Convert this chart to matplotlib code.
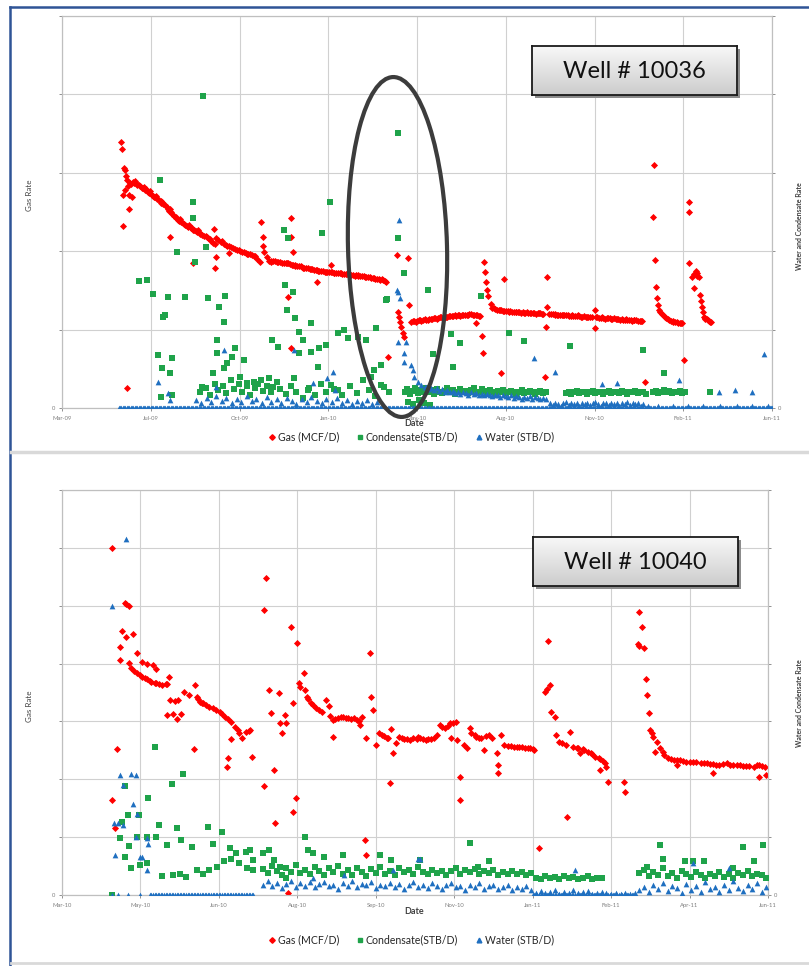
import numpy as np
import matplotlib
matplotlib.use("Agg")
import matplotlib.pyplot as plt
import matplotlib.dates as mdates
from matplotlib.patches import Ellipse
from matplotlib.lines import Line2D
from matplotlib.transforms import IdentityTransform

plt.rcParams['font.family'] = ['Lato', 'DejaVu Sans']

# ------------------------------------------------------------------ data
# Well # 10036 (top) : x = days after axis start, gas in MCF/D, liquids in STB/D
top_start = np.datetime64('2009-03-28')
top_tick_step = 100
top_n_ticks = 9
top_well = "Well # 10036"

gas_top = [
    (67,3398),(68,3301),(70,3062),(71,3037),(73,2909),(69,2718),(76,2718),(79,2692),(76,2539),(69,2322),
    (73,255),(71,2782),(72,2960),(74,2830),
    (77,2871),(78,2860),(80,2884),(81,2870),(82,2895),(84,2858),(85,2850),(87,2845),(88,2830),(90,2807),
    (91,2800),(92,2820),(94,2782),(95,2790),(97,2756),(98,2740),(99,2770),(101,2718),(102,2700),(104,2692),
    (105,2685),(106,2705),(107,2667),(109,2650),(111,2641),(112,2620),(113,2630),(114,2603),(116,2585),
    (118,2565),(119,2540),(121,2514),(122,2540),(123,2495),(124,2475),(126,2455),(128,2437),(129,2420),
    (131,2399),(132,2390),(133,2410),(134,2373),(136,2360),(138,2348),(139,2335),(141,2322),(142,2310),
    (143,2335),(145,2297),(146,2290),(148,2271),(149,2265),(151,2258),(152,2245),(153,2270),(155,2233),
    (156,2220),(158,2207),(160,2200),(162,2195),(163,2180),(165,2169),(167,2150),(168,2131),(170,2110),
    (172,2093),(174,2169),(176,2144),(179,2120),(180,2131),(183,2093),(185,2080),(186,2067),(188,2060),
    (190,2054),(193,2041),(195,2030),(197,2016),(199,2010),(200,2003),(203,1990),(205,1985),(207,1978),
    (209,1970),(210,1965),(212,1958),(214,1952),(216,1945),(217,1939),(220,1901),(223,1863),(226,2067),
    (228,1990),(231,1927),(233,1876),(235,1870),(236,1863),(238,1880),(240,1876),(242,1858),(243,1863),
    (246,1863),(248,1855),(250,1850),(252,1845),(253,1850),(255,1845),(257,1837),(259,1830),(260,1825),
    (262,1818),(263,1812),(265,1805),(267,1812),(269,1805),(270,1799),(272,1790),(273,1786),(275,1792),
    (277,1786),(279,1778),(280,1774),(282,1768),(284,1761),(286,1755),(287,1761),(289,1752),(290,1748),
    (292,1742),(294,1748),(296,1740),(297,1735),(299,1730),(301,1735),(303,1738),(304,1735),(306,1725),
    (307,1722),(309,1718),(311,1722),(313,1726),(314,1722),(316,1715),(318,1710),(320,1705),(321,1710),
    (323,1712),(324,1697),(326,1700),(328,1697),(330,1690),(331,1697),(333,1692),(334,1684),(336,1680),
    (338,1684),(340,1688),(341,1671),(343,1675),(345,1671),(347,1665),(348,1659),(350,1662),(351,1659),
    (353,1650),(355,1646),(357,1640),(358,1633),(360,1645),(362,1633),(364,1625),(365,1608),
    (122,2182),(148,1850),(171,2284),(172,1786),(173,1927),(188,1978),(224,2373),(226,2182),(258,2424),
    (258,2182),(260,1990),(255,1416),(258,766),(287,1608),(303,1825),(367,651),
    (377,1952),(390,1914),(391,1314),(380,1161),(382,1033),(384,957),(385,906),(381,1097),(379,1225),
    (393,1097),(395,1105),(397,1110),(399,1100),(400,1110),(402,1118),(403,1123),(405,1115),(407,1123),
    (409,1130),(410,1123),(412,1128),(414,1136),(416,1130),(417,1136),(419,1142),(420,1148),(422,1140),
    (424,1148),(426,1155),(427,1161),(429,1152),(431,1161),(433,1166),(434,1161),(436,1170),(437,1174),
    (439,1168),(441,1174),(443,1180),(444,1174),(446,1182),(447,1186),(449,1178),(451,1186),(452,1192),
    (454,1186),(456,1180),(458,1186),(459,1194),(461,1199),(463,1190),(464,1186),(466,1180),(468,1186),
    (470,1178),(471,1174),
    (476,1862),(477,1735),(478,1607),(479,1505),(480,1429),(483,1327),(467,1084),(473,918),(474,702),
    (495,446),(498,1646),
    (485,1276),(487,1270),(488,1263),(490,1255),(492,1250),(494,1245),(495,1250),(497,1242),(498,1237),
    (500,1232),(502,1237),(504,1230),(505,1237),(507,1228),(509,1225),(511,1220),(512,1225),(514,1230),
    (515,1225),(517,1218),(519,1225),(520,1215),(522,1212),(524,1220),(525,1212),(527,1208),(529,1212),
    (531,1218),(532,1212),(534,1205),(536,1212),(537,1215),(539,1212),(541,1205),(542,1199),(546,1288),
    (546,1671),(545,1033),(544,395),(549,1199),(551,1205),(553,1199),(555,1192),(556,1199),(558,1190),
    (559,1186),(561,1192),(563,1186),(564,1180),(566,1186),(568,1190),(570,1186),(571,1178),(573,1174),
    (575,1180),(576,1174),(578,1168),(580,1174),(581,1180),(583,1174),(585,1166),(586,1161),(588,1168),
    (590,1161),(591,1155),(593,1161),(595,1166),(597,1161),(600,1250),(600,1020),(602,1155),(603,1161),
    (605,1152),(607,1148),(608,1155),(610,1148),(612,1140),(614,1148),(615,1142),(617,1148),(619,1138),
    (620,1136),(622,1142),(624,1136),(625,1130),(627,1136),(629,1128),(631,1136),(632,1125),(634,1123),
    (636,1130),(637,1123),(639,1118),(641,1123),(642,1115),(644,1123),(645,1118),(647,1123),(649,1112),
    (651,1110),(652,1116),(654,1110),(657,332),
    (667,3100),(666,2436),(668,1888),(669,1543),(670,1403),(671,1314),(673,1250),(674,1225),(676,1199),
    (677,1180),(679,1161),(681,1150),(683,1136),(684,1128),(686,1110),(688,1105),(689,1097),(691,1100),
    (693,1097),(694,1090),(696,1084),(698,1088),(699,1084),(701,612),
    (706,2628),(706,2500),(707,1850),(710,1671),(712,1710),(714,1748),(715,1684),(716,1720),(718,1671),
    (712,1531),(719,1441),(720,1360),(721,1288),(722,1220),(723,1161),(724,1150),(725,1136),(727,1130),
    (728,1123),(729,1110),(730,1097),(731,1092),
]

cond_top = [
    (110,291),(148,263),(148,242),(130,199),(150,186),(162,205),(87,162),(96,163),(102,145),(119,142),
    (116,119),(114,116),(139,142),(165,140),(184,143),(177,129),(182,110),(175,87),(195,77),(175,70),
    (108,68),(124,64),(113,51),(122,45),(111,14),(124,17),(158,27),(170,45),(182,51),(186,57),(192,65),
    (205,61),(201,40),(209,32),(216,33),(224,36),(233,38),(238,27),(237,87),(243,78),(250,227),(255,217),
    (302,263),(293,223),(251,157),(260,148),(254,125),(263,115),(281,108),(267,97),(272,87),(267,70),
    (280,71),(290,77),(298,80),(311,96),(318,99),(322,89),(333,91),(342,87),(354,102),(365,138),(261,38),
    (288,52),(277,23),(303,29),(311,23),(351,48),(359,55),(363,27),(348,40),(379,351),(379,217),(385,172),
    (366,139),(412,151),(438,94),(449,83),(418,69),(440,52),(472,143),(504,96),(521,85),(572,79),(655,74),
    (678,45),(730,20),(159,398),
    (156,20),(162,26),(167,17),(172,31),(176,23),(181,28),(185,19),(190,36),(194,24),(199,31),(203,20),
    (208,28),(212,17),(217,26),(221,31),(226,22),(231,28),(235,20),(242,33),(246,24),(252,18),(258,28),
    (264,20),(271,13),(278,26),(285,17),(292,31),(298,20),(307,24),(316,17),(325,28),(332,19),(339,36),
    (346,23),(353,15),(359,29),(368,20),
    (386,20),(389,24),(392,18),(395,22),(398,25),(401,19),(404,23),(407,21),(410,26),(413,20),(416,23),
    (419,18),(422,24),(425,21),(428,19),(431,22),(434,25),(437,20),(440,23),(443,18),(446,21),(449,24),
    (452,20),(455,22),(458,19),(461,23),(464,25),(467,21),(470,20),(473,24),(476,22),(479,19),(482,23),
    (485,21),(488,18),(491,22),(494,20),(497,23),(500,19),(503,21),(506,22),(509,20),(512,18),(515,21),
    (518,23),(521,19),(524,20),(527,22),(530,21),(533,18),(536,20),(539,22),(542,19),(545,21),
    (568,19),(571,21),(574,18),(577,20),(580,22),(583,19),(586,20),(589,21),(592,18),(595,20),(598,22),
    (601,19),(604,21),(607,20),(610,18),(613,21),(616,22),(619,19),(622,20),(625,21),(628,19),(631,22),
    (634,20),(637,18),(640,21),(643,20),(646,22),(649,19),(652,21),(655,20),(658,18),
    (666,20),(669,22),(672,19),(675,21),(678,23),(681,20),(684,22),(687,19),(690,21),(693,20),(696,22),
    (699,19),(702,21),
    (390,8),(395,5),(402,10),(408,6),(415,4),
]

water_top = [
    (108,33),(119,19),(122,10),(182,74),(261,74),(283,32),(299,38),(305,46),(308,23),(174,27),
    (151,10),(157,6),(163,13),(168,8),(174,15),(180,9),(185,13),(191,6),(197,11),(202,8),(208,15),(214,9),
    (219,11),(225,6),(231,14),(236,8),(242,11),(247,6),(253,13),(259,9),(264,5),(270,11),(276,8),(281,14),
    (287,9),(293,6),(298,11),(304,8),(310,13),(315,6),(321,10),(327,5),(332,9),(338,6),(344,10),(349,5),
    (355,8),
    (380,240),(379,148),(379,84),(388,84),(385,70),(385,59),(393,55),(396,48),(397,40),(401,33),(405,29),
    (409,27),(412,26),(378,150),(381,140),
    (410,27),(413,24),(416,26),(419,23),(422,25),(425,22),(428,24),(431,21),(434,23),(437,20),(440,22),
    (443,19),(446,21),(449,18),(452,20),(455,19),(458,17),(461,20),(464,18),(467,19),(470,17),(473,18),
    (476,16),(479,18),(482,17),(485,15),(488,17),(491,16),(494,14),(497,16),(500,15),(503,14),(506,16),
    (509,13),(512,15),(515,14),(518,12),(521,14),(524,13),(527,15),(530,12),(533,14),(536,13),(539,11),
    (542,13),(545,12),
    (550,6),(553,4),(556,7),(559,5),(562,3),(565,6),(568,8),(571,4),(574,6),(577,5),(580,7),(583,3),
    (586,6),(589,5),(592,7),(595,4),(598,6),(601,8),(604,5),(607,3),(610,6),(613,7),(616,4),(619,6),
    (622,5),(625,7),(628,3),(631,6),(634,5),(637,8),(640,4),(643,6),(646,5),(649,7),(652,3),(655,5),
    (660,2),(672,3),(688,2),(705,3),(722,2),(741,3),(760,2),(778,3),(795,2),
    (532,64),(555,46),(608,31),(625,32),(695,36),(740,20),(758,23),(777,20),(791,69),
]
water_top_zero_span = (64, 803)   # water = 0 on these days

# Well # 10040 (bottom)
bot_start = np.datetime64('2010-03-13')
bot_tick_step = 50
bot_n_ticks = 10
bot_well = "Well # 10040"

gas_bot = [
    (32,6001),(32,1642),(35,2523),(34,1158),(40,5046),(41,5028),(43,4994),(38,4567),(41,4463),(45,4510),
    (37,4291),(37,4061),(48,4187),(43,4009),(51,4031),(54,3992),(58,3974),(60,3905),(44,3923),(46,3880),
    (48,3836),(50,3800),(51,3772),(53,3750),(54,3732),(56,3700),(57,3686),(59,3670),(60,3663),(62,3640),
    (64,3629),(66,3650),(67,3646),(68,3772),(69,3370),(72,3358),(74,3370),(67,3110),(71,3128),(73,3041),
    (76,3128),(78,3513),(81,3456),(85,3629),(86,3427),(84,2518),(87,3380),(88,3341),(89,3320),(90,3310),
    (92,3283),(94,3250),(96,3226),(98,3200),(101,3168),(102,3120),(104,3081),(106,3040),(108,2995),
    (110,2908),(112,2850),(113,2794),(115,2708),(117,2823),(119,2840),(120,2851),(108,2690),(106,2362),
    (105,2217),(121,2380),
    (130,5483),(129,4925),(132,3542),(129,1884),(135,2160),(136,1239),(133,3139),(138,3485),(139,2967),
    (140,2794),(142,3110),(143,2967),(146,4636),(147,3313),(150,4360),(149,1671),(147,1440),(144,30),
    (151,3658),(152,3600),(154,3842),(155,3542),(156,3427),(157,3380),(159,3313),(160,3280),(162,3226),
    (164,3200),(166,3168),(168,3370),(170,3266),(171,3100),(173,3024),(174,3040),(176,3053),(178,3070),
    (179,3081),(181,3060),(182,3064),(184,3050),(186,3053),(188,3030),(189,3012),(191,3081),(190,2938),
    (173,2736),(196,4177),(197,3427),(198,3197),(194,2708),(200,2592),(202,2794),(204,2770),(205,2747),
    (207,2720),(208,2708),(210,2863),(211,2459),(209,1930),(213,2621),(215,2736),(217,2720),(218,2700),
    (220,2690),(222,2678),(224,2708),(226,2690),(227,2736),(193,950),(194,691),
    (228,2708),(230,2700),(232,2680),(233,2690),(235,2690),(237,2720),(239,2765),(241,2938),(242,2900),
    (244,2880),(246,2920),(247,2967),(249,2980),(251,2995),(248,2708),(252,2678),(254,2044),(254,1642),
    (256,2592),(258,2535),(260,2880),(261,2794),(263,2760),(264,2736),(266,2720),(267,2708),(269,2506),
    (270,2740),(272,2765),(274,2708),(277,2447),(278,2246),(278,2102),(280,2765),(282,2592),(284,2580),
    (286,2570),(288,2563),(290,2560),(291,2555),(293,2552),(295,2545),(297,2540),(298,2535),(300,2520),
    (301,2506),(304,807),
    (310,4389),(308,3513),(311,3629),(309,3560),(312,3168),(314,3081),(315,2765),(317,2650),(319,2620),
    (321,2592),(322,1351),(324,2823),(326,2563),(328,2545),(329,2535),(330,2447),(332,2520),(333,2506),
    (335,2470),(337,2447),(338,2430),(340,2390),(342,2370),(343,2345),(345,2310),(346,2286),(343,2160),
    (347,2217),(348,1958),(358,1958),(359,1785),
    (368,4895),(370,4636),(367,4337),(368,4300),(371,4263),(372,3727),(373,3456),(374,3150),(375,2851),
    (376,2800),(377,2736),(379,2650),(378,2476),(381,2535),(383,2470),(384,2419),(386,2362),(388,2345),
    (390,2333),(392,2246),(392,2330),(394,2333),(396,2310),(398,2304),(400,2300),(402,2304),(404,2295),
    (407,2286),(409,2280),(411,2276),(413,2270),(415,2264),(415,2113),(417,2255),(419,2246),(421,2260),
    (424,2276),(426,2255),(428,2246),(430,2250),(432,2246),(434,2235),(436,2229),(438,2225),(441,2217),
    (443,2240),(444,2246),(446,2230),(448,2217),(444,2044),(449,2074),
]

cond_bot = [
    (59,256),(77,210),(70,191),(55,167),(40,188),(38,127),(42,138),(37,98),(49,138),(43,85),(48,101),
    (54,101),(60,101),(62,121),(67,86),(73,115),(76,95),(83,83),(93,117),(96,89),(102,109),(107,81),
    (111,72),(117,75),(120,78),(40,66),(44,46),(50,52),(54,55),(64,32),(71,35),(75,37),(79,31),(86,43),
    (90,36),(94,43),(99,49),(103,58),(108,63),(113,55),(118,46),(122,60),(122,43),(32,0),
    (128,72),(132,78),(135,60),(139,49),(143,29),(155,101),(157,78),(160,72),(167,66),(179,69),(203,69),
    (210,60),(260,90),(272,59),(265,49),(228,60),(381,86),(383,63),(373,49),(397,58),(402,58),(409,58),
    (434,83),(447,86),(441,58),(428,46),
    (128,45),(131,38),(134,50),(137,42),(140,35),(143,47),(146,40),(149,52),(152,38),(155,44),(158,36),
    (161,48),(164,41),(167,34),(170,46),(173,39),(176,50),(179,37),(182,43),(185,35),(188,47),(191,40),
    (194,33),(197,45),(200,38),(203,49),(206,36),(209,42),(212,34),(215,46),(218,39),(221,44),(224,37),
    (227,48),(230,40),(233,36),(236,44),(239,38),(242,42),(245,35),(248,41),(251,46),(254,37),(257,43),
    (260,39),(263,45),(266,36),(269,41),(272,38),(275,44),(278,35),(281,40),(284,37),(287,42),(290,36),
    (293,39),(296,34),(299,38),
    (302,30),(305,27),(308,32),(311,29),(314,31),(317,28),(320,33),(323,29),(326,31),(329,27),(332,30),
    (335,32),(338,28),(341,30),(344,29),
    (368,38),(371,44),(374,32),(377,40),(380,35),(383,46),(386,33),(389,38),(392,30),(395,42),(398,36),
    (401,31),(404,39),(407,34),(410,29),(413,37),(416,33),(419,40),(422,31),(425,36),(428,30),(431,38),
    (434,34),(437,41),(440,32),(443,37),(446,35),(449,30),
]

water_bot = [
    (41,615),(32,499),(37,207),(44,209),(47,207),(39,190),(45,158),(48,140),(33,125),(36,124),(39,121),
    (47,101),(54,98),(55,89),(34,69),(50,66),(51,66),(54,43),(32,0),(36,0),(42,0),(50,0),
    (227,63),(228,62),(327,44),(402,55),(425,46),(211,43),(180,35),(160,30),
    (128,18),(131,24),(134,15),(137,21),(140,12),(143,19),(146,25),(149,14),(152,20),(155,16),(158,23),
    (161,13),(164,19),(167,22),(170,15),(173,18),(176,11),(179,21),(182,16),(185,24),(188,13),(191,19),
    (194,17),(197,22),(200,12),(203,18),(206,15),(209,21),(212,14),(215,19),(218,11),(221,17),(224,23),
    (227,14),(230,18),(233,12),(236,20),(239,15),(242,10),(245,17),(248,21),(251,13),(254,16),(257,9),
    (260,18),(263,14),(266,20),(269,11),(272,15),(275,18),(278,10),(281,14),(284,17),(287,9),(290,13),
    (293,11),(296,15),(299,8),
    (302,4),(305,7),(308,3),(311,5),(314,8),(317,2),(320,6),(323,4),(326,9),(329,3),(332,5),(335,7),
    (338,2),(341,4),(344,6),(347,3),(350,2),(353,4),(356,1),(359,3),(362,2),(365,4),
    (368,8),(371,14),(374,5),(377,18),(380,10),(383,21),(386,7),(389,15),(392,12),(395,4),(398,19),
    (401,9),(404,16),(407,6),(410,22),(413,11),(416,14),(419,5),(422,18),(425,9),(428,24),(431,12),
    (434,7),(437,17),(440,10),(443,20),(446,6),(449,14),
]
water_bot_zero_spans = [(56, 122), (300, 365)]

series_labels = ["Gas (MCF/D)", "Condensate(STB/D)", "Water (STB/D)"]

# ------------------------------------------------------------------ style
RED = '#ff0000'
GREEN = '#1fa34a'
BLUE = '#1f6fc0'
GRID = '#d0d0d0'
TICKC = '#7f7f7f'

W, H = 809, 966
fig = plt.figure(figsize=(W / 100, H / 100), dpi=100)


def fr(x0, y0, x1, y1):
    return [x0 / W, 1 - y1 / H, (x1 - x0) / W, (y1 - y0) / H]


def unzip(pairs):
    d = np.array([p[0] for p in pairs], float)
    v = np.array([p[1] for p in pairs], float)
    return d, v


def panel(rect, start, step, nticks, gas, cond, water, zero_spans, gas_max, liq_max, ngrid, zstep):
    ax = fig.add_axes(rect)
    axr = ax.twinx()
    x0 = mdates.date2num(start)
    span = step * (nticks - 1)
    ax.set_xlim(x0, x0 + span)
    ax.set_ylim(0, gas_max)
    axr.set_ylim(0, liq_max)

    d, v = unzip(gas)
    ax.scatter(x0 + d, v, marker='D', s=13, color=RED, linewidths=0, zorder=3)
    d, v = unzip(cond)
    axr.scatter(x0 + d, v, marker='s', s=13, color=GREEN, linewidths=0, zorder=3)
    zd = np.concatenate([np.arange(a, b + 0.01, zstep) for a, b in zero_spans])
    axr.scatter(x0 + zd, np.zeros_like(zd), marker='^', s=17, color=BLUE, linewidths=0, zorder=4)
    d, v = unzip(water)
    axr.scatter(x0 + d, v, marker='^', s=17, color=BLUE, linewidths=0, zorder=4)

    xt = [x0 + k * step for k in range(nticks)]
    ax.set_xticks(xt)
    ax.set_xticklabels([mdates.num2date(t).strftime('%b-%y') for t in xt])
    gt = np.linspace(0, gas_max, ngrid + 1)
    ax.set_yticks(gt)
    ax.set_yticklabels(['0'] + [''] * ngrid)
    lt = np.linspace(0, liq_max, ngrid + 1)
    axr.set_yticks(lt)
    axr.set_yticklabels(['0'] + [''] * ngrid)

    ax.grid(True, color=GRID, lw=0.8)
    ax.set_axisbelow(True)
    for a in (ax, axr):
        for s in a.spines.values():
            s.set_color('#bfbfbf')
            s.set_linewidth(0.8)
        a.tick_params(colors=TICKC, labelsize=4.2, length=2.5, width=0.6, pad=2)
    ax.tick_params(axis='x', labelsize=4.2, pad=3)
    return ax, axr


ax1, ax1r = panel(fr(62, 16, 772, 408), top_start, top_tick_step, top_n_ticks,
                  gas_top, cond_top, water_top, [water_top_zero_span], 5000, 500, 5, 1.5)
ax2, ax2r = panel(fr(62, 490, 768, 895), bot_start, bot_tick_step, bot_n_ticks,
                  gas_bot, cond_bot, water_bot, water_bot_zero_spans, 7000, 700, 7, 1.0)

# axis titles
for yy in (424, 912):
    fig.text(414 / W, 1 - yy / H, "Date", ha='center', va='center', fontsize=6.5,
             fontweight='bold', color='#404040')
for yy in (195, 706):
    fig.text(30 / W, 1 - yy / H, "Gas Rate", ha='center', va='center', fontsize=5.8,
             rotation=90, color='#404040')
for yy in (226, 703):
    fig.text(800 / W, 1 - yy / H, "Water and Condensate Rate", ha='center', va='center',
             fontsize=5, fontweight='bold', rotation=90, color='#404040')

# legends
handles = [Line2D([], [], marker='D', ls='none', color=RED, ms=2.8),
           Line2D([], [], marker='s', ls='none', color=GREEN, ms=3.0),
           Line2D([], [], marker='^', ls='none', color=BLUE, ms=3.4)]
for yy in (437, 940):
    fig.legend(handles, series_labels, loc='center', bbox_to_anchor=(411 / W, 1 - yy / H),
               ncol=3, frameon=False, fontsize=7.6, handletextpad=0.15, columnspacing=1.6,
               handlelength=0.8, labelcolor='#262626')

# well label boxes (gradient + shadow)
for (x0b, y0b), txt in (((532, 46), top_well), ((533, 537), bot_well)):
    bw, bh = 205, 49
    sh = fig.add_axes(fr(x0b + 3, y0b + 3, x0b + bw + 3, y0b + bh + 3))
    sh.set_facecolor('#8c8c8c')
    sh.set_alpha(0.5)
    sh.set_xticks([]); sh.set_yticks([])
    for s in sh.spines.values():
        s.set_visible(False)
    bx = fig.add_axes(fr(x0b, y0b, x0b + bw, y0b + bh))
    grad = np.linspace(0.97, 0.80, 64)[:, None] * np.ones((1, 4))
    bx.imshow(grad, cmap='gray', vmin=0, vmax=1, aspect='auto', extent=(0, 1, 0, 1))
    bx.set_xlim(0, 1); bx.set_ylim(0, 1)
    bx.set_xticks([]); bx.set_yticks([])
    for s in bx.spines.values():
        s.set_color('#1a1a1a'); s.set_linewidth(1.3)
    bx.text(0.5, 0.47, txt, ha='center', va='center', fontsize=17, color='#111111')

# hand-drawn ellipse (top panel)
ell = Ellipse((397.5, H - 247), 99, 340, angle=1.5, fill=False, edgecolor='#3c3c3c',
              lw=3.0, transform=IdentityTransform(), zorder=10)
fig.add_artist(ell)

# page frame / separator
fig.add_artist(Line2D([10 / W, 10 / W], [0, 1 - 7 / H], transform=fig.transFigure,
                      color='#2f5496', lw=1.8))
fig.add_artist(Line2D([10 / W, 1], [1 - 7 / H, 1 - 7 / H], transform=fig.transFigure,
                      color='#2f5496', lw=1.8))
fig.add_artist(Line2D([11 / W, 1], [1 - 452 / H, 1 - 452 / H], transform=fig.transFigure,
                      color='#d9d9d9', lw=2.5))
fig.add_artist(Line2D([11 / W, 1], [1 - 963 / H, 1 - 963 / H], transform=fig.transFigure,
                      color='#d9d9d9', lw=2.0))

fig.savefig('out.png', dpi=100)
